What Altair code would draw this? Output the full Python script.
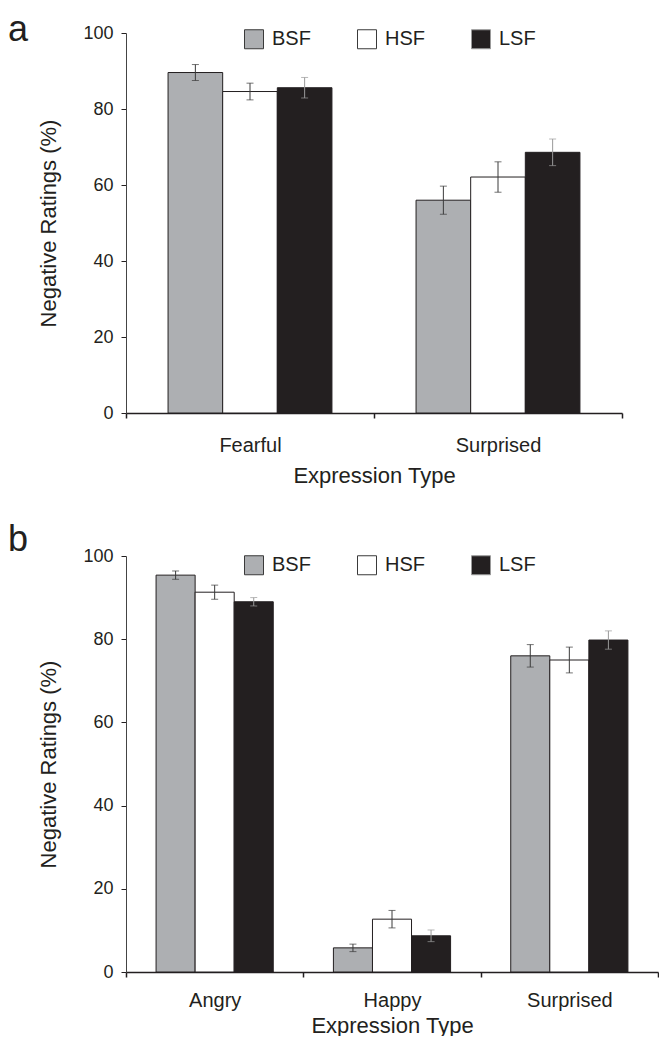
import altair as alt
import pandas as pd

FONT = "Liberation Sans, Arial, Helvetica, sans-serif"
INK = "#231f20"

conditions = ["BSF", "HSF", "LSF"]
fill_colors = ["#adafb2", "#ffffff", "#231f20"]
err_colors = ["#3a3a3a", "#3a3a3a", "#9a9a9a"]

# Panel a
a_expressions = ["Fearful", "Surprised"]
a_bsf = [89.6, 56.0]
a_hsf = [84.6, 62.1]
a_lsf = [85.6, 68.6]
a_bsf_err = [2.1, 3.7]
a_hsf_err = [2.2, 4.0]
a_lsf_err = [2.7, 3.5]

# Panel b
b_expressions = ["Angry", "Happy", "Surprised"]
b_bsf = [95.4, 5.8, 76.0]
b_hsf = [91.3, 12.7, 75.0]
b_lsf = [89.0, 8.7, 79.8]
b_bsf_err = [1.0, 0.9, 2.7]
b_hsf_err = [1.7, 2.1, 3.1]
b_lsf_err = [1.0, 1.4, 2.2]


def build(exprs, vals, errs):
    rows = []
    for cond, v_list, e_list in zip(conditions, vals, errs):
        for ex, v, e in zip(exprs, v_list, e_list):
            rows.append({"Expression": ex, "Condition": cond, "Value": v,
                         "lo": v - e, "hi": v + e})
    return pd.DataFrame(rows)


df_a = build(a_expressions, [a_bsf, a_hsf, a_lsf], [a_bsf_err, a_hsf_err, a_lsf_err])
df_b = build(b_expressions, [b_bsf, b_hsf, b_lsf], [b_bsf_err, b_hsf_err, b_lsf_err])


def panel(df, exprs, width, height, letter, letter_y, legend_y, lab_pad, tit_pad):
    x = alt.X("Expression:N", sort=exprs,
              scale=alt.Scale(paddingInner=0, paddingOuter=0),
              axis=alt.Axis(title="Expression Type", tickBand="extent", labelAngle=0,
                            tickSize=5, labelPadding=lab_pad, labelFontSize=20,
                            titleFontSize=22, titleFontWeight="normal", titlePadding=tit_pad,
                            domainColor=INK, domainWidth=1.5, tickColor=INK, tickWidth=1.5,
                            labelColor=INK, titleColor=INK, labelFont=FONT, titleFont=FONT))
    xo = alt.XOffset("Condition:N", sort=conditions,
                     scale=alt.Scale(domain=conditions, paddingInner=0, paddingOuter=0.77))
    y_axis = alt.Axis(title="Negative Ratings (%)", values=[0, 20, 40, 60, 80, 100],
                      grid=False, tickSize=5, labelPadding=8, labelFontSize=18,
                      titleFontSize=22, titleFontWeight="normal", titlePadding=22,
                      domainColor="#444", tickColor=INK, labelColor=INK, titleColor=INK,
                      labelFont=FONT, titleFont=FONT)
    base = alt.Chart(df)
    bars = base.mark_bar(stroke=INK, strokeWidth=1).encode(
        x=x, xOffset=xo,
        y=alt.Y("Value:Q", scale=alt.Scale(domain=[0, 100]), axis=y_axis),
        color=alt.Color("Condition:N",
                        scale=alt.Scale(domain=conditions, range=fill_colors),
                        legend=alt.Legend(orient="none", legendX=118, legendY=legend_y,
                                          direction="horizontal", title=None,
                                          symbolType="square", symbolSize=361,
                                          symbolStrokeColor=INK, symbolStrokeWidth=1,
                                          symbolOpacity=1,
                                          labelFontSize=20, labelOffset=8,
                                          columnPadding=44, padding=0,
                                          labelFont=FONT, labelColor=INK)),
    )
    rules = base.mark_rule(strokeWidth=1).encode(
        x=x, xOffset=xo, y="lo:Q", y2="hi:Q",
        stroke=alt.Stroke("Condition:N", scale=alt.Scale(domain=conditions, range=err_colors),
                          legend=None),
    )
    caps_lo = base.mark_tick(thickness=1, size=7).encode(
        x=x, xOffset=xo, y="lo:Q",
        fill=alt.Fill("Condition:N", scale=alt.Scale(domain=conditions, range=err_colors),
                      legend=None),
    )
    caps_hi = base.mark_tick(thickness=1, size=7).encode(
        x=x, xOffset=xo, y="hi:Q",
        fill=alt.Fill("Condition:N", scale=alt.Scale(domain=conditions, range=err_colors),
                      legend=None),
    )
    label = alt.Chart(pd.DataFrame({"letter": [letter]})).mark_text(
        align="left", baseline="alphabetic", fontSize=36, font=FONT, color=INK
    ).encode(text="letter:N", x=alt.value(-118), y=alt.value(letter_y))
    return alt.layer(bars, rules, caps_lo, caps_hi, label).properties(
        width=width, height=height,
    )


pa = panel(df_a, a_expressions, 496, 380, "a", 8, -4, 17, 10)
pb = panel(df_b, b_expressions, 532, 416, "b", -5, -1, 13, 5)

chart = alt.vconcat(pa, pb, spacing=36).resolve_scale(
    x="independent", xOffset="independent", y="independent",
    color="independent", fill="independent", stroke="independent"
).properties(
    padding={"left": 0, "top": 4, "right": 0, "bottom": 0},
).configure_view(stroke=None)

chart.save("out.html", embed_options={"renderer": "svg", "actions": False})
